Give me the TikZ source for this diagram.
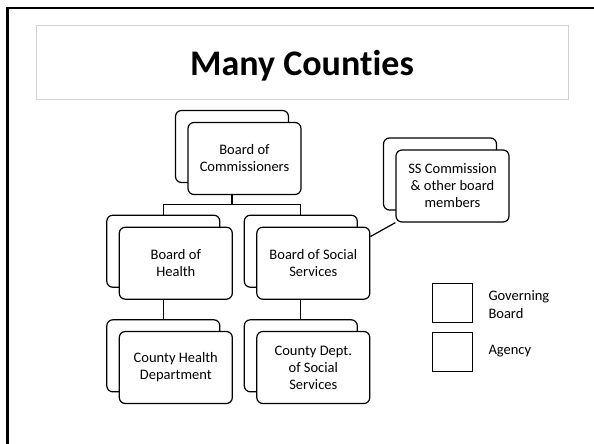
\documentclass[tikz,border=0pt]{standalone}
\usepackage{fontspec}
\setmainfont{Carlito}[Ligatures=NoCommon]
\usetikzlibrary{backgrounds}
\begin{document}
\begin{tikzpicture}[x=1pt,y=-1pt,
  card/.style={draw=black, line width=1.2pt, rounded corners=6pt, fill=white,
    minimum width=113pt, minimum height=72pt, inner sep=0pt, align=center,
    font=\fontsize{14.5}{17}\selectfont},
  link/.style={draw=black, line width=1.2pt},
  keybox/.style={draw=black, line width=0.9pt, fill=white, minimum width=40pt, minimum height=39pt, inner sep=0pt},
  keytext/.style={anchor=west, align=left, inner sep=0pt, font=\fontsize{14.5}{17.6}\selectfont},
  frame/.style={draw=black, line width=2.8pt},
  titlebox/.style={draw=black!18, line width=0.9pt, fill=white, minimum width=532pt, minimum height=74pt, inner sep=0pt}
]
\useasboundingbox (0,0) rectangle (594,444);
\clip (0,0) rectangle (594,444);
\draw[frame] (7.5,8) rectangle (660,500);

\node[titlebox] (tbox) at (302,62) {};
\node[anchor=base, inner sep=0pt, font=\fontsize{36}{40}\bfseries\selectfont] (title) at (302,75) {Many Counties};

% back cards
\node[card] (commB) at (232,146.5) {};
\node[card] (ssB) at (440,174) {};
\node[card] (bohB) at (163.3,251.2) {};
\node[card] (bossB) at (300.8,251.2) {};
\node[card] (chdB) at (163.3,355.8) {};
\node[card] (cdssB) at (300.8,355.8) {};
% front cards
\node[card] (commF) at (244.5,158.5) {Board of\\Commissioners};
\node[card] (ssF) at (452.5,186) {SS Commission\\\& other board\\members};
\node[card] (bohF) at (175.8,263.2) {Board of\\Health};
\node[card] (bossF) at (313.3,263.2) {Board of Social\\Services};
\node[card] (chdF) at (175.8,367.5) {County Health\\Department};
\node[card] (cdssF) at (313.3,367.5) {County Dept.\\of Social\\Services};

\coordinate (bar) at (0,204.3);
\begin{pgfonlayer}{background}
  \draw[link] (commB.south) -- (commB.south |- bar);
  \draw[link] (bohB.north) |- (bossB.north |- bar) -- (bossB.north);
  \draw[link] (bohB.south) -- (chdB.north);
  \draw[link] (bossB.south) -- (cdssB.north);
  \draw[link] (bossF.25) -- (ssF.south west);
\end{pgfonlayer}

% legend
\node[keybox] (keyGov) at (452.3,303) {};
\node[keybox] (keyAg) at (452.3,352.3) {};
\node[keytext] (govText) at (488.3,304.5) {Governing\\Board};
\node[keytext] (agText) at (488.3,350.7) {Agency};
\end{tikzpicture}
\end{document}
